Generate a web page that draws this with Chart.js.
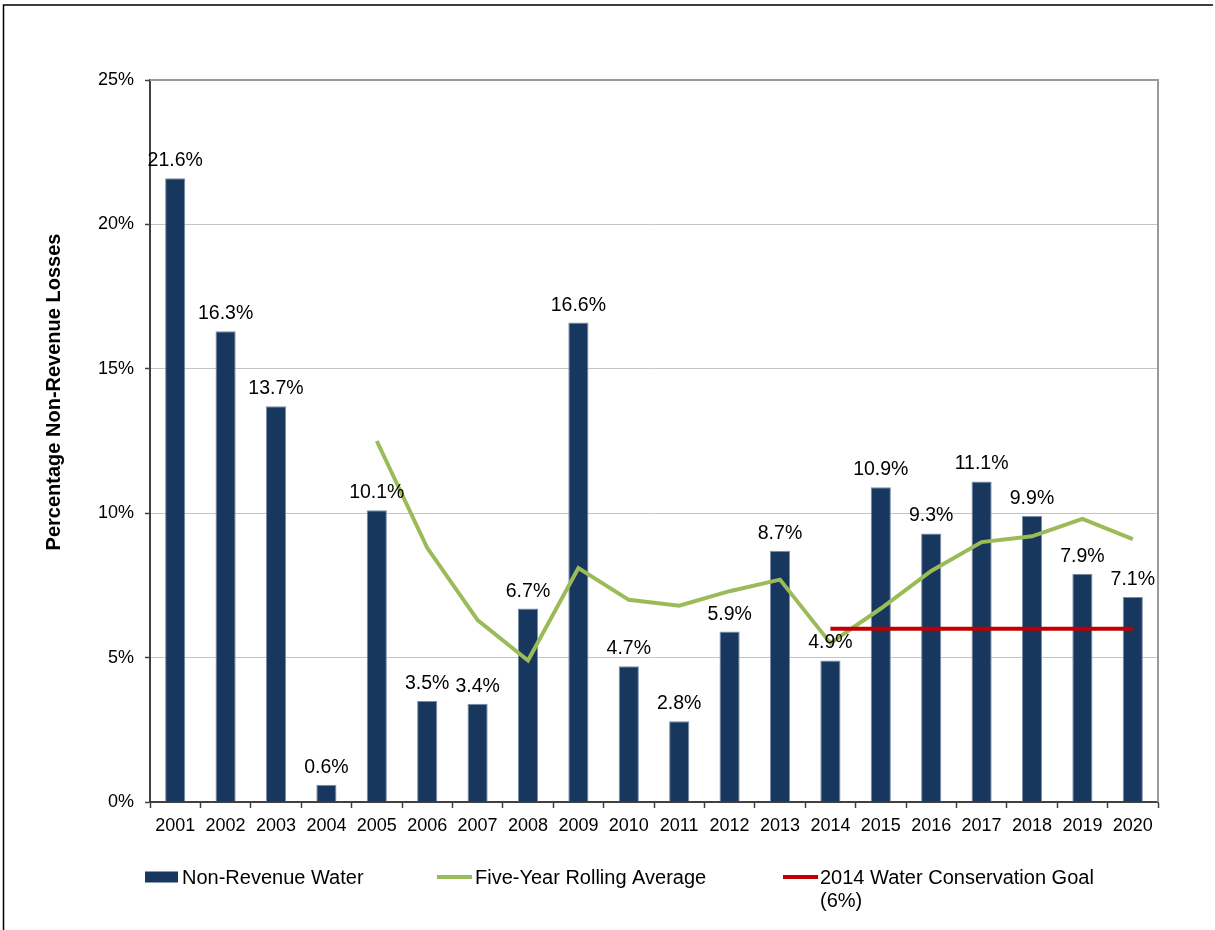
<!DOCTYPE html>
<html>
<head>
<meta charset="utf-8">
<script src="https://cdn.jsdelivr.net/npm/chart.js@4.4.1/dist/chart.umd.min.js"></script>
<style>
    html, body { margin: 0; padding: 0; background: #fff; }
    #wrap { position: relative; width: 1215px; height: 930px; }
</style>
</head>
<body>
<div id="wrap"><canvas id="nrwChart"></canvas></div>
<script>
// ==========================
// DATA
// ==========================

const years = ['2001', '2002', '2003', '2004', '2005', '2006', '2007', '2008', '2009', '2010',
               '2011', '2012', '2013', '2014', '2015', '2016', '2017', '2018', '2019', '2020'];

const nonRevenueWater = [21.6, 16.3, 13.7, 0.6, 10.1, 3.5, 3.4, 6.7, 16.6, 4.7,
                         2.8, 5.9, 8.7, 4.9, 10.9, 9.3, 11.1, 9.9, 7.9, 7.1];

const rollingAverage = [null, null, null, null, 12.5, 8.8, 6.3, 4.9, 8.1, 7.0,
                        6.8, 7.3, 7.7, 5.5, 6.7, 8.0, 9.0, 9.2, 9.8, 9.1];

const conservationGoal = [null, null, null, null, null, null, null, null, null, null,
                          null, null, null, 6, 6, 6, 6, 6, 6, 6];

const yTicks = [0, 5, 10, 15, 20, 25];

const FONT = '"Liberation Sans", Arial, sans-serif';

// ==========================
// PLUGINS
// ==========================

// outer frame, plot frame (top + right) and the rotated y title
const framePlugin = {
    id: 'frame',
    beforeDatasetsDraw(chart) {
        const { ctx, chartArea: a } = chart;
        ctx.save();
        ctx.strokeStyle = '#9a9a9a';
        ctx.lineWidth = 2;
        ctx.beginPath();
        ctx.moveTo(a.left, a.top);
        ctx.lineTo(a.right, a.top);
        ctx.lineTo(a.right, a.bottom);
        ctx.stroke();
        ctx.restore();
    },
    afterDraw(chart) {
        const { ctx } = chart;
        ctx.save();
        ctx.strokeStyle = '#000';
        ctx.lineWidth = 1.5;
        ctx.beginPath();
        ctx.moveTo(3.5, 930);
        ctx.lineTo(3.5, 5);
        ctx.lineTo(1213, 5);
        ctx.stroke();

        ctx.translate(54, 392);
        ctx.rotate(-Math.PI / 2);
        ctx.font = 'bold 20px ' + FONT;
        ctx.fillStyle = '#000';
        ctx.textAlign = 'center';
        ctx.textBaseline = 'middle';
        ctx.fillText('Percentage Non-Revenue Losses', 0, 0);
        ctx.restore();
    }
};

// percentage labels above each bar
const barLabels = {
    id: 'barLabels',
    afterDatasetsDraw(chart) {
        const { ctx } = chart;
        const meta = chart.getDatasetMeta(0);
        ctx.save();
        ctx.font = '19.5px ' + FONT;
        ctx.fillStyle = '#000';
        ctx.textAlign = 'center';
        ctx.textBaseline = 'alphabetic';
        meta.data.forEach((bar, i) => {
            const v = chart.data.datasets[0].data[i];
            ctx.fillText(v.toFixed(1) + '%', bar.x, bar.y - 12);
        });
        ctx.restore();
    }
};

// legend row under the axis
const bottomLegend = {
    id: 'bottomLegend',
    afterDraw(chart) {
        const { ctx } = chart;
        const slots = [
            { x: 145, textX: 182 },
            { x: 437, textX: 475 },
            { x: 783, textX: 820 }
        ];
        const markY = 877;
        const baseY = 884;
        ctx.save();
        ctx.font = '20px ' + FONT;
        ctx.fillStyle = '#000';
        ctx.textBaseline = 'alphabetic';

        chart.data.datasets.forEach((ds, i) => {
            const s = slots[i];
            if (ds.type === 'line') {
                ctx.strokeStyle = ds.borderColor;
                ctx.lineWidth = 4;
                ctx.beginPath();
                ctx.moveTo(s.x, markY);
                ctx.lineTo(s.x + 35, markY);
                ctx.stroke();
            } else {
                ctx.fillStyle = ds.backgroundColor;
                ctx.fillRect(s.x, markY - 5.5, 33, 11);
            }

            // wrap long labels
            const words = ds.label.split(' ');
            const lines = [];
            let line = '';
            words.forEach(w => {
                const test = line ? line + ' ' + w : w;
                if (ctx.measureText(test).width > 300 && line) {
                    lines.push(line);
                    line = w;
                } else {
                    line = test;
                }
            });
            lines.push(line);

            ctx.fillStyle = '#000';
            lines.forEach((l, k) => ctx.fillText(l, s.textX, baseY + k * 22.5));
        });
        ctx.restore();
    }
};

// ==========================
// CHART
// ==========================

const chart = new Chart(document.getElementById('nrwChart'), {
    type: 'bar',
    data: {
        labels: years,
        datasets: [
            {
                type: 'bar',
                label: 'Non-Revenue Water',
                data: nonRevenueWater,
                backgroundColor: '#17375E',
                borderColor: '#7b8ea8',
                borderWidth: 1,
                barPercentage: 0.4,
                categoryPercentage: 1,
                order: 3
            },
            {
                type: 'line',
                label: 'Five-Year Rolling Average',
                data: rollingAverage,
                borderColor: '#9BBB59',
                backgroundColor: '#9BBB59',
                borderWidth: 4,
                pointRadius: 0,
                tension: 0,
                order: 2
            },
            {
                type: 'line',
                label: '2014 Water Conservation Goal (6%)',
                data: conservationGoal,
                borderColor: '#C00000',
                backgroundColor: '#C00000',
                borderWidth: 4,
                pointRadius: 0,
                tension: 0,
                order: 1
            }
        ]
    },
    options: {
        responsive: true,
        maintainAspectRatio: false,
        animation: false,
        layout: {
            padding: { left: 0, top: 80, right: 57, bottom: 88 }
        },
        plugins: {
            legend: { display: false },
            tooltip: { enabled: false }
        },
        scales: {
            x: {
                offset: true,
                grid: {
                    offset: true,
                    drawOnChartArea: false,
                    drawTicks: true,
                    tickLength: 6,
                    tickColor: '#404040',
                    tickWidth: 1.5
                },
                border: { display: true, color: '#404040', width: 2 },
                ticks: {
                    color: '#000',
                    padding: 7,
                    maxRotation: 0,
                    autoSkip: false,
                    font: { family: FONT, size: 18 }
                },
                afterFit(scale) { scale.height = 40; }
            },
            y: {
                min: 0,
                max: 25,
                afterBuildTicks(scale) {
                    scale.ticks = yTicks.map(v => ({ value: v }));
                },
                grid: {
                    color: '#c4c4c4',
                    lineWidth: 1,
                    tickLength: 5,
                    tickColor: '#404040',
                    tickWidth: 1.5
                },
                border: { display: true, color: '#404040', width: 2 },
                ticks: {
                    color: '#000',
                    padding: 11,
                    font: { family: FONT, size: 18 },
                    callback: v => v + '%'
                },
                afterFit(scale) { scale.width = 150; }
            }
        }
    },
    plugins: [framePlugin, barLabels, bottomLegend]
});
</script>
</body>
</html>
